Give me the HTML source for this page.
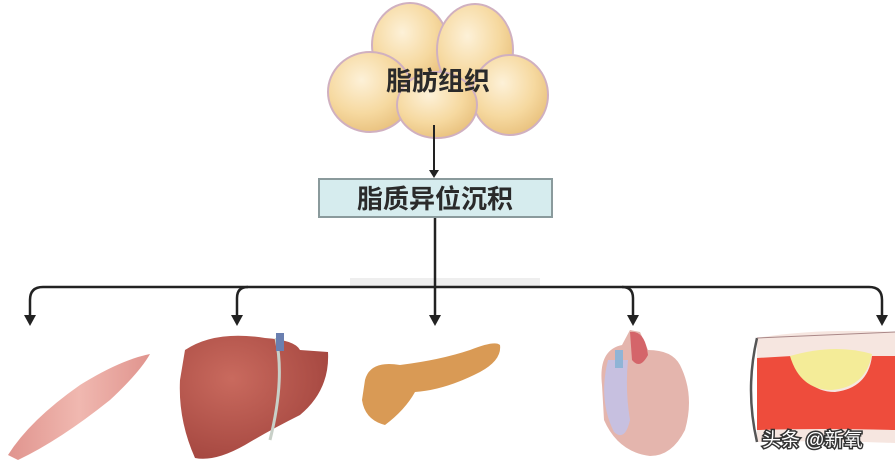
<!DOCTYPE html>
<html><head><meta charset="utf-8"><style>
html,body{margin:0;padding:0;background:#fff;}
svg{display:block;}
text{font-family:"Liberation Sans","Noto Sans CJK SC",sans-serif;}
</style></head><body>
<svg width="896" height="463" viewBox="0 0 896 463" xmlns="http://www.w3.org/2000/svg">
<defs>
<radialGradient id="fat" cx="40%" cy="35%" r="70%"><stop offset="0" stop-color="#fdf1d8"/><stop offset="0.6" stop-color="#f6d9a0"/><stop offset="1" stop-color="#e8c07c"/></radialGradient>
<radialGradient id="liv" cx="35%" cy="35%" r="70%"><stop offset="0" stop-color="#c96a5e"/><stop offset="1" stop-color="#a54740"/></radialGradient>
<linearGradient id="mus" x1="0" y1="0" x2="1" y2="0"><stop offset="0" stop-color="#e0948e"/><stop offset="0.5" stop-color="#f0b8b0"/><stop offset="1" stop-color="#e0948e"/></linearGradient>
</defs>
<rect width="896" height="463" fill="#fff"/>
<g stroke="#d0b0c0" stroke-width="2">
<ellipse cx="410" cy="45" rx="38" ry="42" fill="url(#fat)"/>
<ellipse cx="475" cy="50" rx="38" ry="46" fill="url(#fat)"/>
<ellipse cx="370" cy="92" rx="42" ry="40" fill="url(#fat)"/>
<ellipse cx="510" cy="95" rx="38" ry="40" fill="url(#fat)"/>
<ellipse cx="437" cy="105" rx="40" ry="33" fill="url(#fat)"/>
</g>
<text x="438" y="90" font-size="26" font-weight="bold" fill="#2a2a2a" text-anchor="middle">脂肪组织</text>
<line x1="434" y1="125" x2="434" y2="172" stroke="#222" stroke-width="2"/>
<polygon points="429,170 439,170 434,178" fill="#222"/>
<rect x="319" y="179" width="233" height="38" fill="#d6ecee" stroke="#8a9a9c" stroke-width="2"/>
<text x="435" y="208" font-size="26" font-weight="bold" fill="#2a2a2a" text-anchor="middle">脂质异位沉积</text>
<rect x="350" y="278" width="190" height="8" fill="#eee"/>
<g stroke="#222" stroke-width="2.5" fill="none">
<line x1="435" y1="218" x2="435" y2="318"/>
<path d="M30 318 V300 Q30 287 43 287 H869 Q882 287 882 300 V318"/>
<path d="M237 318 V298 Q237 287 248 287"/>
<path d="M633 318 V298 Q633 287 622 287"/>
</g>
<g fill="#222">
<polygon points="24,315 36,315 30,326"/>
<polygon points="231,315 243,315 237,326"/>
<polygon points="429,315 441,315 435,326"/>
<polygon points="627,315 639,315 633,326"/>
<polygon points="876,315 888,315 882,326"/>
</g>
<path d="M8 455 Q30 420 80 385 Q120 360 150 354 Q140 372 110 400 Q60 440 18 460 Z" fill="url(#mus)"/>
<path d="M185 350 Q215 330 265 338 Q295 340 300 350 L328 352 Q330 390 300 415 Q270 430 245 445 Q215 462 195 458 Q178 420 180 380 Z" fill="url(#liv)"/>
<path d="M276 338 Q285 380 270 440" stroke="#c8d0c8" stroke-width="3" fill="none"/>
<rect x="276" y="333" width="8" height="18" fill="#6a7fb0"/>
<path d="M365 380 Q370 360 400 365 Q440 360 470 350 Q495 340 500 345 Q502 360 480 372 Q445 390 415 392 Q405 410 385 425 Q365 420 362 400 Z" fill="#d99a55"/>
<path d="M602 385 Q598 350 622 345 L630 330 L640 332 L648 350 Q672 350 680 365 Q695 395 685 430 Q672 456 650 456 Q618 452 604 420 Z" fill="#e4b5ad"/>
<path d="M608 360 Q598 400 614 432 Q625 442 630 420 Q625 390 628 360 Z" fill="#c7c0e0"/>
<rect x="615" y="350" width="8" height="18" fill="#8fb4d6"/>
<path d="M630 332 Q645 330 648 355 Q640 370 632 360 Z" fill="#d4656a"/>
<path d="M757 338 Q815 328 895 332 V443 Q815 440 757 442 Z" fill="#f6e6e0"/>
<path d="M757 358 L792 356 Q805 392 835 392 Q868 388 872 356 L895 356 V430 Q820 428 757 430 Z" fill="#ee4c3c"/>
<path d="M790 356 Q800 390 832 390 Q866 387 872 354 Q835 343 790 356 Z" fill="#f4ec98"/>
<path d="M757 338 Q745 390 757 442" stroke="#555" stroke-width="2.5" fill="none"/>
<line x1="757" y1="338" x2="895" y2="332" stroke="#a88" stroke-width="1"/>
<text x="762" y="446" font-size="19" fill="#fff" stroke="#333" stroke-width="3" paint-order="stroke">头条 @新氧</text>
</svg>
</body></html>
